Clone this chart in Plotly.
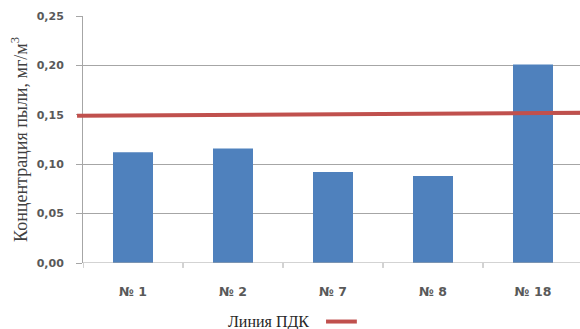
import plotly.graph_objects as go

# Sampling points and measured dust concentration, mg/m3
points = ["№ 1", "№ 2", "№ 7", "№ 8", "№ 18"]
concentration = [0.112, 0.116, 0.092, 0.088, 0.201]

# Maximum permissible concentration (ПДК) line, drawn edge to edge
pdk_start = 0.149
pdk_end = 0.152
pdk_label = "Линия ПДК"

y_ticks = [0.0, 0.05, 0.10, 0.15, 0.20, 0.25]

bar_color = "#4F81BD"
pdk_color = "#C0504D"
grid_color = "#A6A6A6"
sans = "DejaVu Sans, Verdana, sans-serif"
serif = "Liberation Serif, Times New Roman, serif"
y_tick_font = dict(family=sans, size=11, color="#595959", weight="bold")
x_tick_font = dict(family=sans, size=12.5, color="#595959", weight="bold")

x_pos = list(range(len(points)))

fig = go.Figure()
fig.add_trace(go.Bar(
    x=x_pos, y=concentration, marker=dict(color=bar_color, line=dict(width=0)),
    width=0.4, showlegend=False, hoverinfo="y",
))

fig.add_shape(type="line", xref="paper", yref="y", x0=-0.012, x1=1.0,
              y0=pdk_start, y1=pdk_end, line=dict(color=pdk_color, width=4), layer="above")

# Legend: label followed by a short swatch
fig.add_annotation(text=pdk_label, xref="paper", yref="paper", x=0.459, y=-0.24,
                   xanchor="right", yanchor="middle", showarrow=False,
                   font=dict(family=serif, size=16, color="#262626"))
fig.add_shape(type="line", xref="paper", yref="paper", x0=0.489, x1=0.551,
              y0=-0.237, y1=-0.237, line=dict(color=pdk_color, width=4))

fig.update_layout(
    width=580, height=329,
    margin=dict(l=83, r=0, t=16, b=66),
    paper_bgcolor="white", plot_bgcolor="white",
    separators=", ",
    bargap=0.6,
    xaxis=dict(
        range=[-0.5, 4.47], tickvals=x_pos, ticktext=points,
        showgrid=False, zeroline=False, showline=False,
        tickfont=x_tick_font, ticks="", ticklabelstandoff=19, fixedrange=True,
    ),
    yaxis=dict(
        range=[0, 0.25], tickvals=y_ticks, tickformat=".2f",
        showgrid=True, gridcolor=grid_color, gridwidth=1,
        zeroline=False, showline=True, linecolor=grid_color, linewidth=1,
        ticks="outside", ticklen=6, tickcolor=grid_color,
        tickfont=y_tick_font, ticklabelstandoff=10,
        title=dict(text="Концентрация пыли, мг/м<sup>3</sup>", standoff=4,
                   font=dict(family=serif, size=18, color="#404040")),
    ),
)

# Category separator ticks along the baseline
for k in range(len(points)):
    fig.add_shape(type="line", xref="x", yref="paper", x0=k - 0.5, x1=k - 0.5,
                  y0=0, y1=-0.02, line=dict(color=grid_color, width=1))
fig.add_shape(type="line", xref="paper", yref="y", x0=0, x1=1, y0=0, y1=0,
              line=dict(color=grid_color, width=1))

fig.write_html("out.html")
